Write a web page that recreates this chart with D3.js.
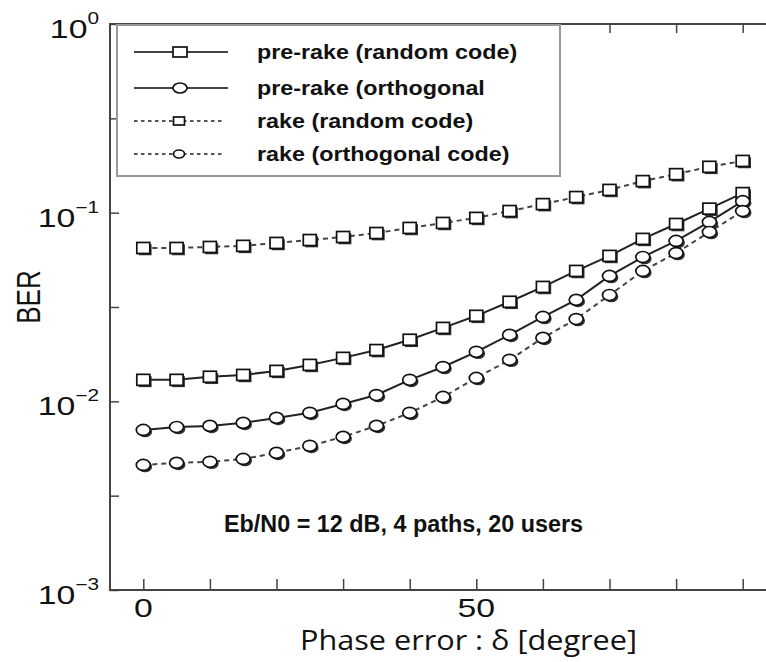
<!DOCTYPE html>
<html lang="en">
<head>
<meta charset="UTF-8">
<title>BER vs phase error</title>
<script src="https://d3js.org/d3.v7.min.js"></script>
<style>
  body { margin: 0; background: #fff; }
  svg { display: block; }
  .tick-num { font-family: Arial, "Liberation Sans", sans-serif; font-size: 26px; fill: #111; }
  .legend-text { font-family: Arial, "Liberation Sans", sans-serif; font-weight: bold; font-size: 21px; fill: #111; }
  .note { font-family: Arial, "Liberation Sans", sans-serif; font-weight: bold; font-size: 23px; fill: #111; }
  .x-title { font-family: "Open Sans", sans-serif; font-size: 27px; fill: #111; }
</style>
</head>
<body>
<svg id="chart"></svg>
<script>
// phase error in degrees
const phase = [0, 5, 10, 15, 20, 25, 30, 35, 40, 45, 50, 55, 60, 65, 70, 75, 80, 85, 90];

// BER
const preRakeRandom = [0.0130, 0.0130, 0.0135, 0.0138, 0.0145, 0.0156, 0.0170, 0.0187, 0.0212, 0.0245,
                       0.0284, 0.0337, 0.0404, 0.0491, 0.0590, 0.0726, 0.0871, 0.105, 0.127];
const preRakeOrtho = [0.00705, 0.00731, 0.00741, 0.00769, 0.00817, 0.00869, 0.00969, 0.0108, 0.0130, 0.0152,
                      0.0183, 0.0225, 0.0280, 0.0345, 0.0462, 0.0582, 0.0708, 0.0893, 0.115];
const rakeRandom = [0.0650, 0.0650, 0.0658, 0.0667, 0.0691, 0.0716, 0.0743, 0.0780, 0.0830, 0.0882,
                    0.0938, 0.102, 0.111, 0.121, 0.132, 0.147, 0.160, 0.175, 0.188];
const rakeOrtho = [0.00460, 0.00472, 0.00478, 0.00495, 0.00533, 0.00581, 0.00648, 0.00741, 0.00869, 0.01055,
                   0.0133, 0.0166, 0.0217, 0.0273, 0.0366, 0.0491, 0.0611, 0.0790, 0.102];

const legendLabels = ["pre-rake (random code)", "pre-rake (orthogonal", "rake (random code)", "rake (orthogonal code)"];
const xTicks = [0, 10, 20, 30, 40, 50, 60, 70, 80, 90];
const xTickLabels = [0, 50];
const yDecades = [0, -1, -2, -3];
const yTicks = [0, -0.5, -1, -1.5, -2, -2.5, -3];
const noteText = "Eb/N0 = 12 dB, 4 paths, 20 users";
const xTitle = "Phase error : δ [degree]";
const yTitle = "BER";

// style per series (same order as legend)
const seriesValues = [preRakeRandom, preRakeOrtho, rakeRandom, rakeOrtho];
const seriesStyle = [
  { marker: "square", dash: null },
  { marker: "circle", dash: null },
  { marker: "square", dash: "5,4" },
  { marker: "circle", dash: "5,4" }
];

const W = 766, H = 662;
const svg = d3.select("#chart").attr("width", W).attr("height", H);

const x = d3.scaleLinear().domain([-5, 95]).range([110, 776]);
const y = d3.scaleLog().domain([1e-3, 1]).range([590, 24]);

const axisColor = "#444";

// ticks (inside)
svg.append("g")
  .attr("transform", `translate(0,${y(1e-3)})`)
  .call(d3.axisBottom(x).tickValues(xTicks).tickSizeInner(-11).tickSizeOuter(0).tickFormat(""))
  .call(g => g.select(".domain").remove())
  .call(g => g.selectAll("line").attr("stroke", axisColor).attr("stroke-width", 1.5));
svg.append("g")
  .attr("transform", `translate(0,${y(1)})`)
  .call(d3.axisTop(x).tickValues(xTicks).tickSizeInner(-9).tickSizeOuter(0).tickFormat(""))
  .call(g => g.select(".domain").remove())
  .call(g => g.selectAll("line").attr("stroke", axisColor).attr("stroke-width", 1.5));
svg.append("g")
  .attr("transform", `translate(${x(-5)},0)`)
  .call(d3.axisLeft(y).tickValues(yTicks.map(e => Math.pow(10, e))).tickSizeInner(-9).tickSizeOuter(0).tickFormat(""))
  .call(g => g.select(".domain").remove())
  .call(g => g.selectAll("line").attr("stroke", axisColor).attr("stroke-width", 1.5));
svg.append("g")
  .attr("transform", `translate(${x(95)},0)`)
  .call(d3.axisRight(y).tickValues(yTicks.map(e => Math.pow(10, e))).tickSizeInner(-9).tickSizeOuter(0).tickFormat(""))
  .call(g => g.select(".domain").remove())
  .call(g => g.selectAll("line").attr("stroke", axisColor).attr("stroke-width", 1.5));

// frame
svg.append("rect")
  .attr("x", x(-5)).attr("y", y(1))
  .attr("width", x(95) - x(-5)).attr("height", y(1e-3) - y(1))
  .attr("fill", "none").attr("stroke", axisColor).attr("stroke-width", 2);

// x tick labels
xTickLabels.forEach(v => {
  svg.append("g")
    .attr("transform", `translate(${x(v)},${y(1e-3) + 27}) scale(1.3,1)`)
    .append("text").attr("class", "tick-num")
    .attr("text-anchor", "middle")
    .text(v);
});

// y tick labels 10^n
yDecades.forEach(e => {
  const t = svg.append("g")
    .attr("transform", `translate(99,${y(Math.pow(10, e)) + 14}) scale(1.3,1)`)
    .append("text").attr("class", "tick-num").attr("text-anchor", "end");
  t.append("tspan").text("10");
  t.append("tspan").attr("dy", -14).attr("font-size", 16).text(e === 0 ? "0" : "\u2212" + (-e));
});

// titles
svg.append("text").attr("class", "x-title")
  .attr("x", 300).attr("y", 650)
  .attr("textLength", 337).attr("lengthAdjust", "spacingAndGlyphs")
  .text(xTitle);
svg.append("text").attr("class", "tick-num")
  .attr("transform", "translate(40,297) rotate(-90) scale(1,1.3)")
  .attr("text-anchor", "middle").attr("font-size", 25)
  .text(yTitle);

// markers
function drawMarker(g, type, cx, cy, w, h, shadow) {
  if (type === "square") {
    if (shadow) g.append("rect").attr("x", cx - w / 2 + 1.8).attr("y", cy - h / 2 + 1.8)
      .attr("width", w).attr("height", h).attr("fill", "#333");
    g.append("rect").attr("x", cx - w / 2).attr("y", cy - h / 2)
      .attr("width", w).attr("height", h)
      .attr("fill", "#fff").attr("stroke", "#111").attr("stroke-width", 1.7);
  } else {
    if (shadow) g.append("ellipse").attr("cx", cx + 1.8).attr("cy", cy + 1.8)
      .attr("rx", w / 2).attr("ry", h / 2).attr("fill", "#333");
    g.append("ellipse").attr("cx", cx).attr("cy", cy)
      .attr("rx", w / 2).attr("ry", h / 2)
      .attr("fill", "#fff").attr("stroke", "#111").attr("stroke-width", 1.7);
  }
}

const line = d3.line().x(d => x(d[0])).y(d => y(d[1]));

seriesValues.forEach((vals, i) => {
  const pts = phase.map((p, j) => [p, vals[j]]);
  svg.append("path").datum(pts)
    .attr("d", line)
    .attr("fill", "none")
    .attr("stroke", seriesStyle[i].dash ? "#444" : "#222")
    .attr("stroke-width", 2)
    .attr("stroke-dasharray", seriesStyle[i].dash);
});
seriesValues.forEach((vals, i) => {
  const g = svg.append("g");
  phase.forEach((p, j) => {
    const w = seriesStyle[i].marker === "square" ? 13 : 14;
    const h = 11;
    drawMarker(g, seriesStyle[i].marker, x(p), y(vals[j]), w, h, true);
  });
});

// legend
const legend = svg.append("g");
legend.append("rect")
  .attr("x", 117).attr("y", 25).attr("width", 443).attr("height", 151)
  .attr("fill", "#fff").attr("stroke", "#999").attr("stroke-width", 2);
const rowY = [52, 88, 121, 154];
legendLabels.forEach((lab, i) => {
  const st = seriesStyle[i];
  const dashed = !!st.dash;
  legend.append("line")
    .attr("x1", 134).attr("x2", dashed ? 224 : 228)
    .attr("y1", rowY[i]).attr("y2", rowY[i])
    .attr("stroke", dashed ? "#555" : "#444").attr("stroke-width", 2)
    .attr("stroke-dasharray", dashed ? "3.5,3.5" : null);
  const w = dashed ? 11 : 14, h = dashed ? 8 : 10;
  drawMarker(legend, st.marker, dashed ? 179 : 180, rowY[i], w, h, false);
  legend.append("g")
    .attr("transform", `translate(257,${rowY[i] + 7}) scale(1.11,1)`)
    .append("text").attr("class", "legend-text")
    .text(lab);
});

// annotation
svg.append("text").attr("class", "note")
  .attr("x", 224).attr("y", 532)
  .attr("textLength", 359).attr("lengthAdjust", "spacingAndGlyphs")
  .text(noteText);
</script>
</body>
</html>
